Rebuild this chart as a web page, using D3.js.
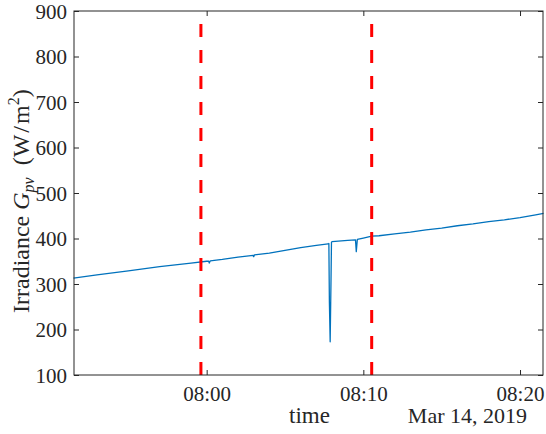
<!DOCTYPE html>
<html>
<head>
<meta charset="utf-8">
<script src="https://cdn.jsdelivr.net/npm/d3@7"></script>
<style>
  body { margin: 0; background: #fff; }
  svg { display: block; }
  svg text { font-family: "Liberation Serif", "Times New Roman", serif !important; fill: #262626; }
</style>
</head>
<body>
<svg id="chart" width="546" height="434"></svg>
<script>
// ---- data ----
const times = ["07:51:30","07:53:00","07:55:00","07:57:00","07:59:00","08:00:00","08:00:08","08:00:10","08:00:14",
  "08:01:00","08:02:00","08:02:58","08:03:00","08:03:03","08:04:00","08:05:00","08:06:00","08:07:00","08:07:45",
  "08:07:48","08:07:50","08:07:53","08:07:56","08:07:58","08:08:00","08:09:00","08:09:30","08:09:33","08:09:37",
  "08:10:00","08:10:32","08:11:00","08:12:00","08:13:00","08:14:00","08:15:00","08:16:00","08:17:00","08:18:00",
  "08:19:00","08:20:00","08:21:00","08:21:30"];
const irradiance = [313,320,329,338,346,350,350,346,351,
  354,359,363,360,364,368,374,380,385,388,
  389,260,173,300,392,393,396,397,371,398,
  401,405,406,410,414,419,423,428,432,437,
  441,446,452,455];
const markerTimes = ["07:59:38","08:10:32"];
const xTickLabels = ["08:00","08:10","08:20"];
const yTicks = [100,200,300,400,500,600,700,800,900];
const dateLabel = "Mar 14, 2019";

// ---- layout ----
const svg = d3.select("#chart");
const m = {left: 74, right: 543, top: 11, bottom: 375};
const parse = d3.timeParse("%H:%M:%S");
const parseHM = d3.timeParse("%H:%M");
const x = d3.scaleTime()
  .domain([parse("07:51:32"), parse("08:21:28")])
  .range([m.left, m.right]);
const y = d3.scaleLinear().domain([100, 900]).range([m.bottom, m.top]);
const axisColor = "#262626";

const data = times.map((t, i) => ({t: parse(t), v: irradiance[i]}));

// line
svg.append("path")
  .datum(data)
  .attr("fill", "none")
  .attr("stroke", "#0072BD")
  .attr("stroke-width", 1.3)
  .attr("stroke-linejoin", "round")
  .attr("d", d3.line().x(d => x(d.t)).y(d => y(d.v)));

// red dashed markers (drawn from bottom up)
markerTimes.forEach(t => {
  const xx = x(parse(t));
  svg.append("line")
    .attr("x1", xx).attr("x2", xx)
    .attr("y1", m.bottom).attr("y2", m.top)
    .attr("stroke", "#ff0000")
    .attr("stroke-width", 3)
    .attr("stroke-dasharray", "13,13");
});

// axes (inward ticks, mirrored)
const xTickVals = xTickLabels.map(s => parseHM(s));
const fmt = d3.timeFormat("%H:%M");
const gxB = svg.append("g").attr("transform", `translate(0,${m.bottom})`)
  .call(d3.axisBottom(x).tickValues(xTickVals).tickFormat(fmt).tickSizeInner(-5).tickSizeOuter(0).tickPadding(11));
const gxT = svg.append("g").attr("transform", `translate(0,${m.top})`)
  .call(d3.axisTop(x).tickValues(xTickVals).tickFormat("").tickSizeInner(-5).tickSizeOuter(0));
const gyL = svg.append("g").attr("transform", `translate(${m.left},0)`)
  .call(d3.axisLeft(y).tickValues(yTicks).tickFormat(d3.format("d")).tickSizeInner(-5).tickSizeOuter(0).tickPadding(7));
const gyR = svg.append("g").attr("transform", `translate(${m.right},0)`)
  .call(d3.axisRight(y).tickValues(yTicks).tickFormat("").tickSizeInner(-5).tickSizeOuter(0));

[gxB, gxT, gyL, gyR].forEach(g => {
  g.attr("font-family", null).attr("font-size", null);
  g.select(".domain").remove();
  g.selectAll("line").attr("stroke", axisColor).attr("stroke-width", 1);
  g.selectAll("text").style("font-size", "21px").attr("fill", axisColor);
});
gyL.selectAll("text").attr("dy", "0.35em");

// box
svg.append("rect")
  .attr("x", m.left).attr("y", m.top)
  .attr("width", m.right - m.left).attr("height", m.bottom - m.top)
  .attr("fill", "none").attr("stroke", axisColor).attr("stroke-width", 1);

// x label + date
svg.append("text")
  .attr("x", (m.left + m.right) / 2 + 1).attr("y", 423)
  .attr("text-anchor", "middle").style("font-size", "23px")
  .text("time");
svg.append("text")
  .attr("x", 527).attr("y", 423)
  .attr("text-anchor", "end").style("font-size", "22px")
  .text(dateLabel);

// y label
const yl = svg.append("text")
  .attr("transform", `translate(29,313) rotate(-90)`)
  .attr("text-anchor", "start").style("font-size", "24px");
yl.append("tspan").text("Irradiance ");
yl.append("tspan").attr("font-style", "italic").text("G");
yl.append("tspan").attr("font-style", "italic").style("font-size", "16px").attr("dy", 5).text("pv");
yl.append("tspan").attr("dy", -5).text("\u2002(W\u200a/\u200am");
yl.append("tspan").style("font-size", "16px").attr("dy", -10).text("2");
yl.append("tspan").attr("dy", 10).text(")");
</script>
</body>
</html>
